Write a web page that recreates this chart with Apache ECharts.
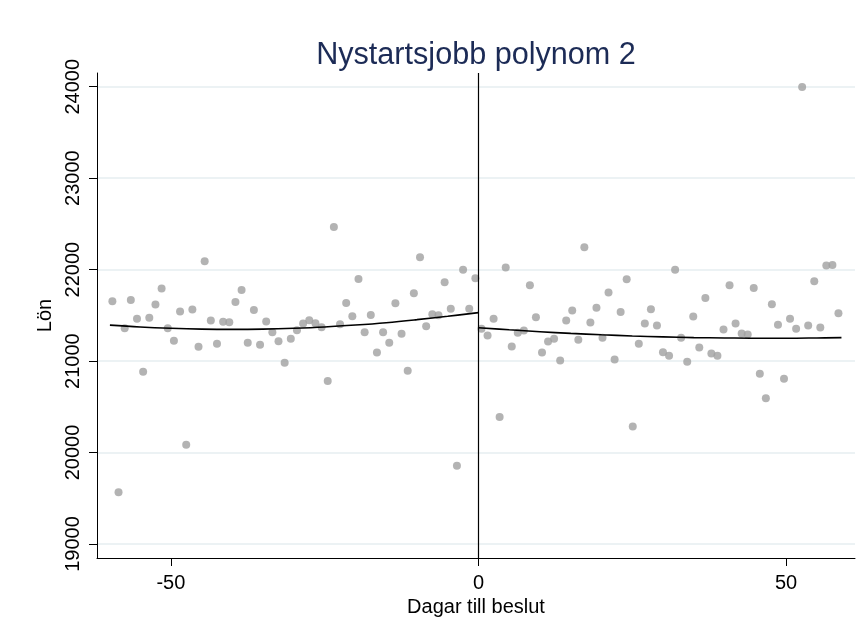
<!DOCTYPE html>
<html>
<head>
<meta charset="utf-8">
<script src="https://cdn.jsdelivr.net/npm/echarts@6/dist/echarts.min.js"></script>
<style>
html,body{margin:0;padding:0;background:#fff;}
#chart{width:864px;height:636px;}
</style>
</head>
<body>
<div id="chart"></div>
<script>
// ---- data ----
const titleText = 'Nystartsjobb polynom 2';
const xAxisTitle = 'Dagar till beslut';
const yAxisTitle = 'Lön';
const xTicks = [-50, 0, 50];
const yTicks = [19000, 20000, 21000, 22000, 23000, 24000];

const leftX = [-59.5,-58.5,-57.5,-56.5,-55.5,-54.5,-53.5,-52.5,-51.5,-50.5,
  -49.5,-48.5,-47.5,-46.5,-45.5,-44.5,-43.5,-42.5,-41.5,-40.5,
  -39.5,-38.5,-37.5,-36.5,-35.5,-34.5,-33.5,-32.5,-31.5,-30.5,
  -29.5,-28.5,-27.5,-26.5,-25.5,-24.5,-23.5,-22.5,-21.5,-20.5,
  -19.5,-18.5,-17.5,-16.5,-15.5,-14.5,-13.5,-12.5,-11.5,-10.5,
  -9.5,-8.5,-7.5,-6.5,-5.5,-4.5,-3.5,-2.5,-1.5,-0.5];
const leftY = [21655,19567,21360,21669,21462,20884,21473,21618,21793,21360,
  21222,21542,20084,21564,21156,22091,21444,21189,21429,21425,
  21647,21778,21200,21560,21178,21433,21316,21218,20982,21244,
  21338,21411,21447,21415,21371,20782,22465,21404,21636,21491,
  21898,21316,21505,21095,21316,21200,21633,21298,20895,21742,
  22135,21382,21513,21502,21862,21571,19855,22000,21571,21905];

const rightX = [0.49,1.48,2.46,3.44,4.43,5.41,6.39,7.38,8.36,9.34,
  10.33,11.31,12.29,13.28,14.26,15.24,16.23,17.21,18.19,19.18,
  20.16,21.14,22.13,23.11,24.09,25.08,26.06,27.04,28.03,29.01,
  29.99,30.98,31.96,32.94,33.93,34.91,35.89,36.88,37.86,38.84,
  39.83,40.81,41.79,42.78,43.76,44.74,45.73,46.71,47.69,48.68,
  49.66,50.64,51.63,52.61,53.59,54.58,55.56,56.54,57.53,58.51];
const rightY = [21353,21280,21462,20389,22022,21160,21309,21335,21829,21480,
  21095,21215,21244,21007,21444,21553,21233,22244,21422,21582,
  21255,21749,21018,21538,21895,20284,21189,21411,21567,21389,
  21098,21058,22000,21255,20993,21487,21149,21691,21084,21058,
  21345,21829,21411,21302,21291,21800,20862,20593,21622,21396,
  20807,21462,21353,23996,21389,21873,21367,22044,22051,21524];

// fitted polynomial curves
const leftFitX = [-59.9,-55,-50,-45,-40,-35,-30,-25,-20,-15,-10,-5,0];
const leftFitY = [21393,21373,21359,21350,21347,21350,21359,21373,21394,21420,21453,21490,21530];
const rightFitX = [0,5,10,15,20,25,30,35,40,45,50,55,59];
const rightFitY = [21365,21342,21321,21303,21288,21275,21265,21257,21253,21250,21250,21253,21257];

// ---- build ----
const zip = (xs, ys) => xs.map((x, i) => [x, ys[i]]);
const FONT = 'Liberation Sans, Arial, Helvetica, sans-serif';
const dotColor = '#a0a0a0';

const chart = echarts.init(document.getElementById('chart'), null, {renderer: 'canvas'});
chart.setOption({
  backgroundColor: '#ffffff',
  animation: false,
  title: {
    text: titleText,
    left: 471,
    textAlign: 'center',
    top: 35,
    textStyle: {color: '#1c2b56', fontSize: 30.6, fontWeight: 'normal', fontFamily: FONT}
  },
  grid: {left: 97, right: 9, top: 73, bottom: 78, containLabel: false, outerBoundsMode: 'none'},
  xAxis: {
    type: 'value',
    min: -62.0,
    max: 61.2,
    name: xAxisTitle,
    nameLocation: 'middle',
    nameGap: 37,
    nameTextStyle: {color: '#000', fontSize: 20, fontFamily: FONT},
    axisLine: {show: true, onZero: false, lineStyle: {color: '#000', width: 1}},
    axisTick: {show: true, inside: false, length: 8, customValues: xTicks, lineStyle: {color: '#000', width: 1}},
    axisLabel: {show: true, customValues: xTicks, margin: 15, color: '#000', fontSize: 20, fontFamily: FONT,
      formatter: v => String(v)},
    splitLine: {show: false}
  },
  yAxis: {
    type: 'value',
    min: 18847,
    max: 24150,
    name: yAxisTitle,
    nameLocation: 'middle',
    nameGap: 41,
    nameRotate: 90,
    nameTextStyle: {color: '#000', fontSize: 20, fontFamily: FONT},
    axisLine: {show: true, onZero: false, lineStyle: {color: '#000', width: 1}},
    axisTick: {show: true, inside: false, length: 8, customValues: yTicks, lineStyle: {color: '#000', width: 1}},
    axisLabel: {show: true, customValues: yTicks, rotate: 90, margin: 14, color: '#000', fontSize: 20, fontFamily: FONT,
      formatter: v => String(v)},
    splitLine: {show: true, lineStyle: {color: '#e6eef1', width: 1.5}}
  },
  series: [
    {
      type: 'scatter', name: 'left', data: zip(leftX, leftY),
      symbol: 'circle', symbolSize: 8, itemStyle: {color: dotColor}, z: 3, silent: true
    },
    {
      type: 'scatter', name: 'right', data: zip(rightX, rightY),
      symbol: 'circle', symbolSize: 8, itemStyle: {color: dotColor}, z: 3, silent: true
    },
    {
      type: 'line', name: 'leftFit', data: zip(leftFitX, leftFitY),
      smooth: 0.4, showSymbol: false, symbol: 'none',
      lineStyle: {color: '#000', width: 1.6}, z: 4, silent: true,
      markLine: {
        silent: true, symbol: 'none', label: {show: false},
        lineStyle: {color: '#000', type: 'solid', width: 1.2},
        data: [{xAxis: 0}]
      }
    },
    {
      type: 'line', name: 'rightFit', data: zip(rightFitX, rightFitY),
      smooth: 0.4, showSymbol: false, symbol: 'none',
      lineStyle: {color: '#000', width: 1.6}, z: 4, silent: true
    }
  ]
});
</script>
</body>
</html>
